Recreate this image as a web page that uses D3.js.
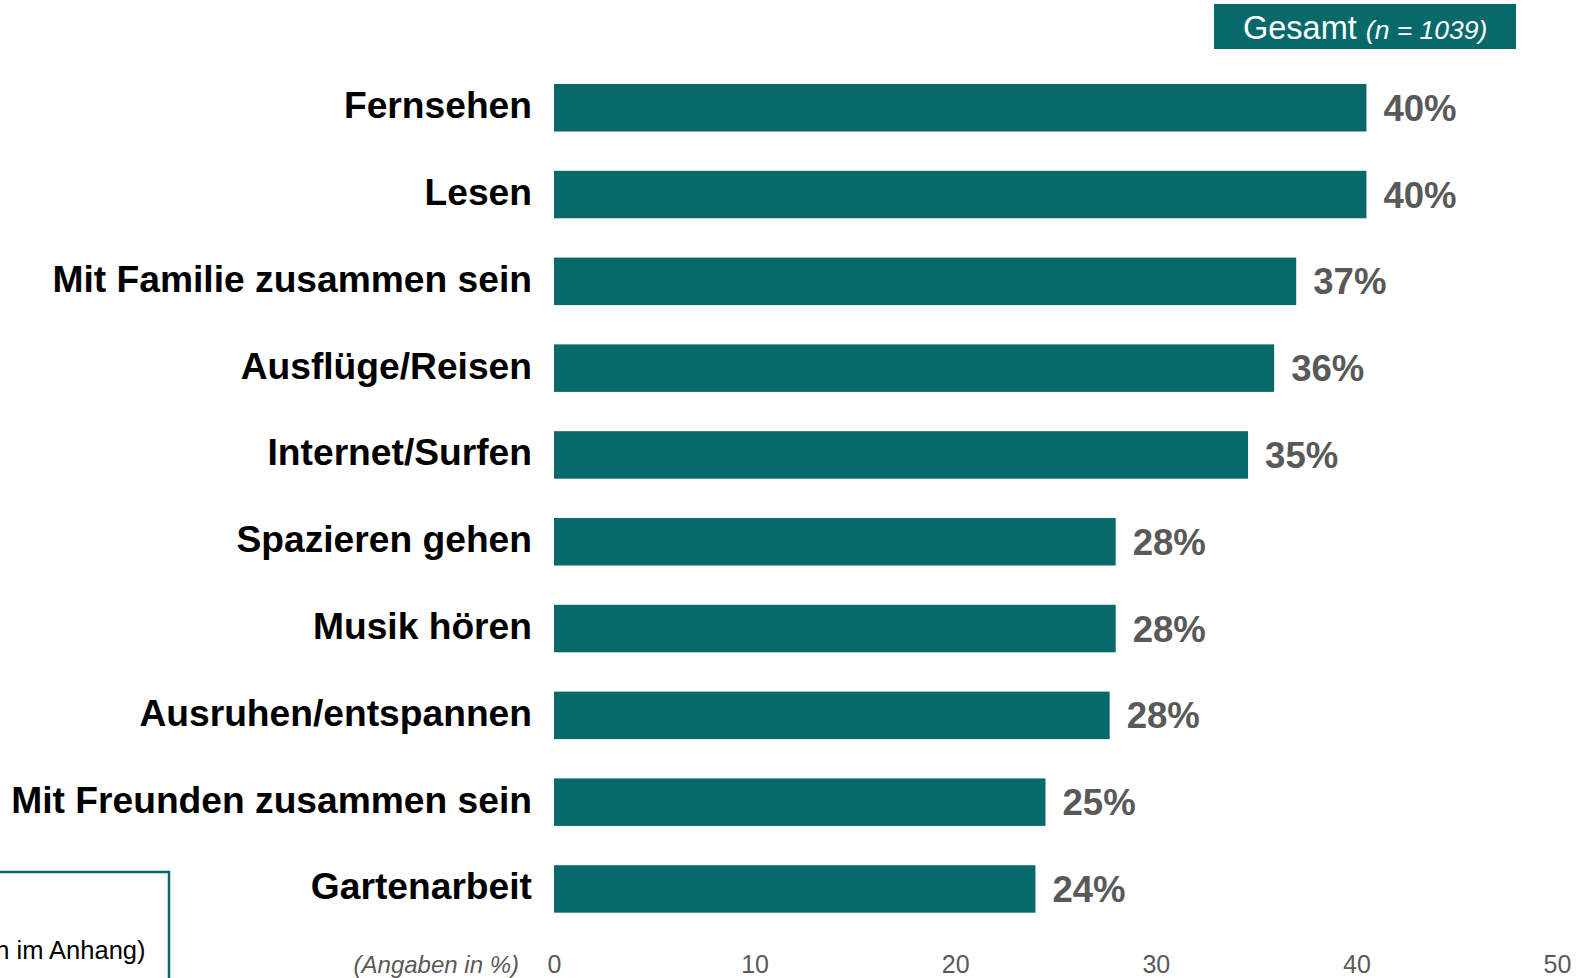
<!DOCTYPE html>
<html>
<head>
<meta charset="utf-8">
<script src="https://cdn.jsdelivr.net/npm/d3@7"></script>
<style>
  html, body { margin: 0; padding: 0; background: #fff; }
  svg { display: block; font-family: "Liberation Sans", Arial, sans-serif; }
</style>
</head>
<body>
<svg id="chart" width="1585" height="978"></svg>
<script>
const categories = ["Fernsehen", "Lesen", "Mit Familie zusammen sein", "Ausflüge/Reisen", "Internet/Surfen",
  "Spazieren gehen", "Musik hören", "Ausruhen/entspannen", "Mit Freunden zusammen sein", "Gartenarbeit"];
const values = [40.5, 40.5, 37.0, 35.9, 34.6, 28.0, 28.0, 27.7, 24.5, 24.0];
const valueLabels = ["40%", "40%", "37%", "36%", "35%", "28%", "28%", "28%", "25%", "24%"];
const tickValues = [0, 10, 20, 30, 40, 50];
const axisNote = "(Angaben in %)";
const badgeTitle = "Gesamt";
const badgeN = "(n = 1039)";
const boxText = "(Details in den Tabellen im Anhang)";

const teal = "#08696a";
const grey = "#595959";
const svg = d3.select("#chart");

const x = d3.scaleLinear().domain([0, 50]).range([554, 1557]);
const y = d3.scaleBand().domain(categories).range([64.35, 932.35])
  .paddingInner(0.4528).paddingOuter(0.2264);

// bars
svg.append("g").selectAll("rect").data(categories).join("rect")
  .attr("x", x(0))
  .attr("y", d => y(d))
  .attr("width", (d, i) => x(values[i]) - x(0))
  .attr("height", y.bandwidth())
  .attr("fill", teal);

// category labels
svg.append("g").selectAll("text").data(categories).join("text")
  .attr("x", 532)
  .attr("y", d => y(d) + y.bandwidth() / 2 + 10.5)
  .attr("text-anchor", "end")
  .attr("font-size", 37.2)
  .attr("font-weight", "bold")
  .attr("fill", "#000")
  .text(d => d);

// value labels
svg.append("g").selectAll("text").data(categories).join("text")
  .attr("x", (d, i) => x(values[i]) + 17)
  .attr("y", d => y(d) + y.bandwidth() / 2 + 13)
  .attr("font-size", 36.6)
  .attr("font-weight", "bold")
  .attr("fill", grey)
  .text((d, i) => valueLabels[i]);

// x axis
const axis = svg.append("g").attr("transform", "translate(0,973)")
  .call(d3.axisBottom(x).tickValues(tickValues).tickSize(0).tickFormat(d3.format("d")));
axis.select(".domain").remove();
axis.selectAll("text")
  .attr("y", 0).attr("dy", null)
  .attr("font-size", 25)
  .attr("fill", grey)
  .attr("font-family", "'Liberation Sans', Arial, sans-serif");

svg.append("text")
  .attr("x", 519).attr("y", 973)
  .attr("text-anchor", "end")
  .attr("font-size", 24)
  .attr("font-style", "italic")
  .attr("fill", grey)
  .text(axisNote);

// badge
svg.append("rect").attr("x", 1214).attr("y", 4).attr("width", 302).attr("height", 45).attr("fill", teal);
const bt = svg.append("text").attr("x", 1243).attr("y", 39).attr("fill", "#fff");
bt.append("tspan").attr("font-size", 32.5).text(badgeTitle + " ");
bt.append("tspan").attr("font-size", 26.5).attr("font-style", "italic").text(badgeN);

// bottom-left box (cut off at the left edge, as in the reference)
svg.append("rect").attr("x", -10).attr("y", 872).attr("width", 179).attr("height", 120)
  .attr("fill", "#fff").attr("stroke", teal).attr("stroke-width", 2.5);
svg.append("text").attr("x", 145.5).attr("y", 959).attr("text-anchor", "end")
  .attr("font-size", 25.5).attr("fill", "#000").text(boxText);
</script>
</body>
</html>
